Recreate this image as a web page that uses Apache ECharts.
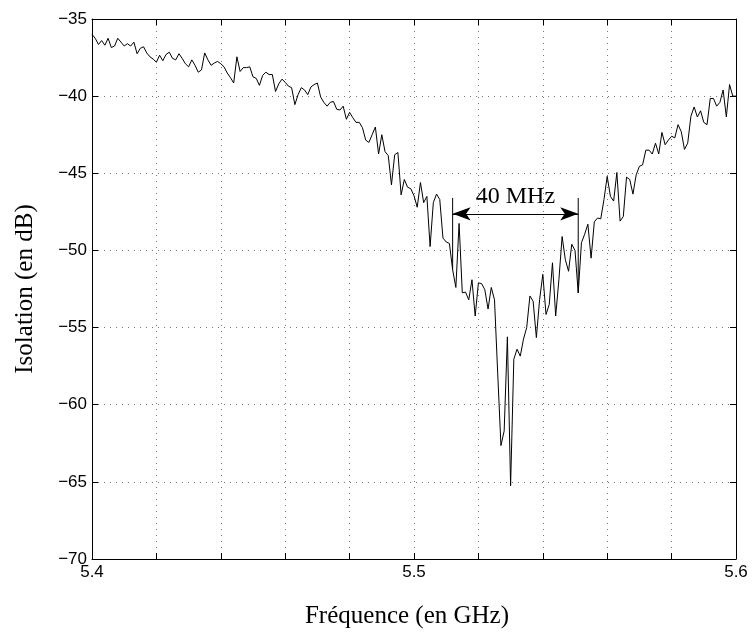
<!DOCTYPE html>
<html>
<head>
<meta charset="utf-8">
<script src="https://cdn.jsdelivr.net/npm/echarts@6/dist/echarts.min.js"></script>
<style>
html,body{margin:0;padding:0;background:#fff;}
#chart{width:755px;height:634px;}
</style>
</head>
<body>
<div id="chart"></div>
<script>
// Sampling grid of the measurement (GHz)
const freqStart = 5.4;
const freqStep = 0.001;
// Isolation values (dB), one per sample
const isolation = [
 -36.0,-36.25,-36.65,-36.4,-36.7,-36.25,-36.85,-36.75,-36.25,-36.5,
 -36.75,-36.6,-36.75,-36.5,-37.25,-36.9,-36.8,-37.2,-37.45,-37.6,
 -37.8,-37.35,-37.7,-37.3,-37.15,-37.55,-37.65,-37.25,-37.55,-37.9,
 -38.1,-37.65,-38.0,-38.45,-38.3,-37.2,-37.65,-38.0,-37.85,-37.75,
 -37.9,-38.1,-38.5,-38.8,-39.15,-37.45,-38.4,-38.15,-38.15,-38.1,
 -38.75,-38.85,-39.3,-38.65,-38.45,-38.6,-38.6,-39.7,-39.2,-38.9,
 -39.1,-39.35,-39.45,-40.55,-39.9,-39.45,-39.6,-39.9,-39.4,-39.25,
 -39.15,-40.05,-40.4,-40.65,-40.4,-40.35,-40.85,-40.9,-40.65,-41.5,
 -41.05,-41.4,-41.7,-41.7,-42.05,-42.85,-43.0,-42.5,-42.0,-43.75,
 -42.5,-43.6,-43.85,-45.75,-43.8,-43.65,-46.4,-45.4,-45.9,-46.0,
 -46.45,-47.2,-45.6,-46.9,-46.5,-49.75,-46.9,-46.35,-46.7,-49.2,
 -49.45,-49.55,-51.25,-52.4,-48.25,-52.75,-52.7,-53.2,-51.9,-54.25,
 -52.1,-52.15,-52.55,-53.8,-52.4,-53.2,-58.0,-62.65,-61.7,-55.6,
 -65.25,-57.05,-56.4,-56.85,-55.75,-55.0,-52.95,-53.3,-55.65,-53.2,
 -51.55,-54.15,-53.5,-50.8,-54.25,-51.9,-49.1,-50.6,-51.35,-49.6,
 -50.0,-52.75,-49.5,-48.95,-48.3,-50.5,-48.15,-47.9,-47.95,-46.7,
 -45.2,-46.5,-46.8,-44.95,-48.1,-47.8,-45.25,-45.4,-46.35,-45.1,
 -44.55,-44.45,-43.5,-43.5,-43.75,-43.05,-43.75,-42.35,-43.15,-42.85,
 -42.6,-42.7,-41.85,-42.3,-43.45,-43.05,-41.3,-40.7,-41.35,-40.95,
 -41.7,-41.85,-40.15,-40.15,-40.65,-40.4,-39.6,-41.35,-39.25,-40.0,
 -40.0
];
// Axis settings
const xMin = 5.4, xMax = 5.6, xInterval = 0.02;
const yMin = -70, yMax = -35, yInterval = 5;
// Bandwidth annotation
const markerFreqs = [5.512, 5.551];
const markerTop = -46.6;
const markerBottoms = [-51.25, -52.75];
const arrowLevel = -47.63;
const bandLabel = '40 MHz';
const xTitle = 'Fréquence (en GHz)';
const yTitle = 'Isolation (en dB)';

const curve = isolation.map((v, i) => [+(freqStart + i * freqStep).toFixed(3), v]);

const serif = '"Liberation Serif", "Times New Roman", serif';
const sans = '"Liberation Sans", Arial, Helvetica, sans-serif';

const chart = echarts.init(document.getElementById('chart'), null, {renderer: 'canvas'});

const gridDots = {show: true, lineStyle: {color: '#777', width: 1, type: [1, 5]}};
const frameLine = {show: true, onZero: false, lineStyle: {color: '#000', width: 1}};
const tickIn = {show: true, inside: true, length: 6, lineStyle: {color: '#000', width: 1}};

const markerSeries = markerFreqs.map((f, k) => ({
  type: 'line',
  silent: true,
  symbol: 'none',
  animation: false,
  lineStyle: {color: '#000', width: 1},
  data: [[f, markerTop], [f, markerBottoms[k]]],
  xAxisIndex: 0, yAxisIndex: 0
}));

markerSeries[0].markLine = {
  silent: true,
  animation: false,
  symbol: ['arrow', 'arrow'],
  symbolSize: [10, 18],
  lineStyle: {color: '#000', width: 1, type: 'solid'},
  label: {
    show: true,
    position: 'middle',
    formatter: bandLabel,
    color: '#000',
    fontFamily: serif,
    fontSize: 24,
    distance: 5
  },
  data: [[{coord: [markerFreqs[0], arrowLevel]}, {coord: [markerFreqs[1], arrowLevel]}]]
};

chart.setOption({
  animation: false,
  backgroundColor: '#fff',
  grid: {left: 92, right: 19, top: 19, bottom: 74, containLabel: false},
  xAxis: [{
    type: 'value', min: xMin, max: xMax, interval: xInterval, position: 'bottom',
    axisLine: frameLine, axisTick: tickIn, splitLine: gridDots,
    axisLabel: {
      color: '#000', fontFamily: sans, fontSize: 17, margin: 5,
      formatter: v => (Math.abs(v * 10 - Math.round(v * 10)) < 1e-6 ? v.toFixed(1) : '')
    },
    name: xTitle, nameLocation: 'middle', nameGap: 45,
    nameTextStyle: {color: '#000', fontFamily: serif, fontSize: 25, padding: [0, 14, 0, 0]}
  }, {
    type: 'value', min: xMin, max: xMax, interval: xInterval, position: 'top',
    axisLine: frameLine, axisTick: tickIn, splitLine: {show: false}, axisLabel: {show: false}
  }],
  yAxis: [{
    type: 'value', min: yMin, max: yMax, interval: yInterval, position: 'left',
    axisLine: frameLine, axisTick: tickIn, splitLine: gridDots,
    axisLabel: {
      color: '#000', fontFamily: sans, fontSize: 17, margin: 5,
      formatter: v => (v < 0 ? '\u2212' + Math.abs(v) : String(v))
    },
    name: yTitle, nameLocation: 'middle', nameGap: 54, nameRotate: 90,
    nameTextStyle: {color: '#000', fontFamily: serif, fontSize: 25}
  }, {
    type: 'value', min: yMin, max: yMax, interval: yInterval, position: 'right',
    axisLine: frameLine, axisTick: tickIn, splitLine: {show: false}, axisLabel: {show: false}
  }],
  series: [{
    type: 'line',
    data: curve,
    symbol: 'none',
    silent: true,
    lineStyle: {color: '#000', width: 1},
    xAxisIndex: 0, yAxisIndex: 0,
    z: 3
  }].concat(markerSeries)
});
</script>
</body>
</html>
